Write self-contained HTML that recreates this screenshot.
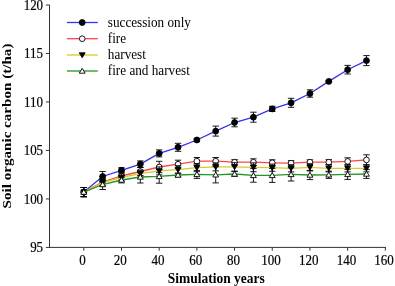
<!DOCTYPE html>
<html><head><meta charset="utf-8"><title>Soil organic carbon</title>
<style>
html,body{margin:0;padding:0;background:#fff;}
body{width:395px;height:286px;overflow:hidden;}
svg{display:block;will-change:transform;}
.t{font-family:"Liberation Serif",serif;font-size:14.5px;fill:#000;}
.n{font-family:"Liberation Serif",serif;font-size:14.5px;fill:#000;stroke:#000;stroke-width:0.2px;}
.l{letter-spacing:-0.13px;}
.b{font-family:"Liberation Serif",serif;font-size:14.5px;font-weight:bold;fill:#000;}
</style></head><body>
<svg width="395" height="286" viewBox="0 0 395 286">
<rect width="395" height="286" fill="#fff"/>
<line x1="49.50" y1="4.90" x2="49.50" y2="247.90" stroke="#333" stroke-width="1"/>
<line x1="49.00" y1="247.40" x2="386.00" y2="247.40" stroke="#333" stroke-width="1"/>
<line x1="45.90" y1="5.00" x2="49.50" y2="5.00" stroke="#333" stroke-width="1"/>
<text transform="translate(43.1,9.7) scale(0.895,1)" text-anchor="end" class="n">120</text>
<line x1="45.90" y1="53.48" x2="49.50" y2="53.48" stroke="#333" stroke-width="1"/>
<text transform="translate(43.1,58.2) scale(0.895,1)" text-anchor="end" class="n">115</text>
<line x1="45.90" y1="101.96" x2="49.50" y2="101.96" stroke="#333" stroke-width="1"/>
<text transform="translate(43.1,106.7) scale(0.895,1)" text-anchor="end" class="n">110</text>
<line x1="45.90" y1="150.44" x2="49.50" y2="150.44" stroke="#333" stroke-width="1"/>
<text transform="translate(43.1,155.1) scale(0.895,1)" text-anchor="end" class="n">105</text>
<line x1="45.90" y1="198.92" x2="49.50" y2="198.92" stroke="#333" stroke-width="1"/>
<text transform="translate(43.1,203.6) scale(0.895,1)" text-anchor="end" class="n">100</text>
<line x1="45.90" y1="247.40" x2="49.50" y2="247.40" stroke="#333" stroke-width="1"/>
<text transform="translate(43.1,252.1) scale(0.895,1)" text-anchor="end" class="n">95</text>
<line x1="83.80" y1="247.40" x2="83.80" y2="250.70" stroke="#333" stroke-width="1"/>
<text transform="translate(82.6,264.6) scale(0.9,1)" text-anchor="middle" class="n">0</text>
<line x1="121.49" y1="247.40" x2="121.49" y2="250.70" stroke="#333" stroke-width="1"/>
<text transform="translate(120.3,264.6) scale(0.9,1)" text-anchor="middle" class="n">20</text>
<line x1="159.18" y1="247.40" x2="159.18" y2="250.70" stroke="#333" stroke-width="1"/>
<text transform="translate(158.0,264.6) scale(0.9,1)" text-anchor="middle" class="n">40</text>
<line x1="196.87" y1="247.40" x2="196.87" y2="250.70" stroke="#333" stroke-width="1"/>
<text transform="translate(195.7,264.6) scale(0.9,1)" text-anchor="middle" class="n">60</text>
<line x1="234.56" y1="247.40" x2="234.56" y2="250.70" stroke="#333" stroke-width="1"/>
<text transform="translate(233.4,264.6) scale(0.9,1)" text-anchor="middle" class="n">80</text>
<line x1="272.25" y1="247.40" x2="272.25" y2="250.70" stroke="#333" stroke-width="1"/>
<text transform="translate(271.1,264.6) scale(0.9,1)" text-anchor="middle" class="n">100</text>
<line x1="309.94" y1="247.40" x2="309.94" y2="250.70" stroke="#333" stroke-width="1"/>
<text transform="translate(308.7,264.6) scale(0.9,1)" text-anchor="middle" class="n">120</text>
<line x1="347.63" y1="247.40" x2="347.63" y2="250.70" stroke="#333" stroke-width="1"/>
<text transform="translate(346.4,264.6) scale(0.9,1)" text-anchor="middle" class="n">140</text>
<line x1="385.32" y1="247.40" x2="385.32" y2="250.70" stroke="#333" stroke-width="1"/>
<text transform="translate(384.1,264.6) scale(0.9,1)" text-anchor="middle" class="n">160</text>
<polyline fill="none" stroke="#3030ff" stroke-width="1.3" points="83.80,192.10 102.64,176.50 121.49,170.30 140.34,164.10 159.18,153.40 178.03,147.30 196.87,140.00 215.71,131.10 234.56,122.50 253.41,117.20 272.25,108.90 291.10,102.80 309.94,93.50 328.79,81.40 347.63,69.70 366.48,60.60"/>
<line x1="83.80" y1="187.50" x2="83.80" y2="196.70" stroke="#000" stroke-width="0.9"/>
<line x1="80.60" y1="187.50" x2="87.00" y2="187.50" stroke="#000" stroke-width="0.9"/>
<line x1="80.60" y1="196.70" x2="87.00" y2="196.70" stroke="#000" stroke-width="0.9"/>
<line x1="102.64" y1="171.50" x2="102.64" y2="181.50" stroke="#000" stroke-width="0.9"/>
<line x1="99.44" y1="171.50" x2="105.84" y2="171.50" stroke="#000" stroke-width="0.9"/>
<line x1="99.44" y1="181.50" x2="105.84" y2="181.50" stroke="#000" stroke-width="0.9"/>
<line x1="121.49" y1="167.70" x2="121.49" y2="172.90" stroke="#000" stroke-width="0.9"/>
<line x1="118.29" y1="167.70" x2="124.69" y2="167.70" stroke="#000" stroke-width="0.9"/>
<line x1="118.29" y1="172.90" x2="124.69" y2="172.90" stroke="#000" stroke-width="0.9"/>
<line x1="140.34" y1="160.90" x2="140.34" y2="167.30" stroke="#000" stroke-width="0.9"/>
<line x1="137.14" y1="160.90" x2="143.53" y2="160.90" stroke="#000" stroke-width="0.9"/>
<line x1="137.14" y1="167.30" x2="143.53" y2="167.30" stroke="#000" stroke-width="0.9"/>
<line x1="159.18" y1="149.90" x2="159.18" y2="156.90" stroke="#000" stroke-width="0.9"/>
<line x1="155.98" y1="149.90" x2="162.38" y2="149.90" stroke="#000" stroke-width="0.9"/>
<line x1="155.98" y1="156.90" x2="162.38" y2="156.90" stroke="#000" stroke-width="0.9"/>
<line x1="178.03" y1="143.30" x2="178.03" y2="151.30" stroke="#000" stroke-width="0.9"/>
<line x1="174.83" y1="143.30" x2="181.22" y2="143.30" stroke="#000" stroke-width="0.9"/>
<line x1="174.83" y1="151.30" x2="181.22" y2="151.30" stroke="#000" stroke-width="0.9"/>
<line x1="196.87" y1="138.40" x2="196.87" y2="141.60" stroke="#000" stroke-width="0.9"/>
<line x1="193.67" y1="138.40" x2="200.07" y2="138.40" stroke="#000" stroke-width="0.9"/>
<line x1="193.67" y1="141.60" x2="200.07" y2="141.60" stroke="#000" stroke-width="0.9"/>
<line x1="215.71" y1="126.10" x2="215.71" y2="136.10" stroke="#000" stroke-width="0.9"/>
<line x1="212.51" y1="126.10" x2="218.91" y2="126.10" stroke="#000" stroke-width="0.9"/>
<line x1="212.51" y1="136.10" x2="218.91" y2="136.10" stroke="#000" stroke-width="0.9"/>
<line x1="234.56" y1="118.20" x2="234.56" y2="126.80" stroke="#000" stroke-width="0.9"/>
<line x1="231.36" y1="118.20" x2="237.76" y2="118.20" stroke="#000" stroke-width="0.9"/>
<line x1="231.36" y1="126.80" x2="237.76" y2="126.80" stroke="#000" stroke-width="0.9"/>
<line x1="253.41" y1="112.20" x2="253.41" y2="122.20" stroke="#000" stroke-width="0.9"/>
<line x1="250.21" y1="112.20" x2="256.61" y2="112.20" stroke="#000" stroke-width="0.9"/>
<line x1="250.21" y1="122.20" x2="256.61" y2="122.20" stroke="#000" stroke-width="0.9"/>
<line x1="272.25" y1="106.30" x2="272.25" y2="111.50" stroke="#000" stroke-width="0.9"/>
<line x1="269.05" y1="106.30" x2="275.45" y2="106.30" stroke="#000" stroke-width="0.9"/>
<line x1="269.05" y1="111.50" x2="275.45" y2="111.50" stroke="#000" stroke-width="0.9"/>
<line x1="291.10" y1="98.30" x2="291.10" y2="107.30" stroke="#000" stroke-width="0.9"/>
<line x1="287.90" y1="98.30" x2="294.30" y2="98.30" stroke="#000" stroke-width="0.9"/>
<line x1="287.90" y1="107.30" x2="294.30" y2="107.30" stroke="#000" stroke-width="0.9"/>
<line x1="309.94" y1="89.80" x2="309.94" y2="97.20" stroke="#000" stroke-width="0.9"/>
<line x1="306.74" y1="89.80" x2="313.14" y2="89.80" stroke="#000" stroke-width="0.9"/>
<line x1="306.74" y1="97.20" x2="313.14" y2="97.20" stroke="#000" stroke-width="0.9"/>
<line x1="328.79" y1="80.60" x2="328.79" y2="82.20" stroke="#000" stroke-width="0.9"/>
<line x1="325.59" y1="80.60" x2="331.99" y2="80.60" stroke="#000" stroke-width="0.9"/>
<line x1="325.59" y1="82.20" x2="331.99" y2="82.20" stroke="#000" stroke-width="0.9"/>
<line x1="347.63" y1="65.40" x2="347.63" y2="74.00" stroke="#000" stroke-width="0.9"/>
<line x1="344.43" y1="65.40" x2="350.83" y2="65.40" stroke="#000" stroke-width="0.9"/>
<line x1="344.43" y1="74.00" x2="350.83" y2="74.00" stroke="#000" stroke-width="0.9"/>
<line x1="366.48" y1="55.60" x2="366.48" y2="65.60" stroke="#000" stroke-width="0.9"/>
<line x1="363.28" y1="55.60" x2="369.68" y2="55.60" stroke="#000" stroke-width="0.9"/>
<line x1="363.28" y1="65.60" x2="369.68" y2="65.60" stroke="#000" stroke-width="0.9"/>
<circle cx="83.80" cy="192.10" r="2.95" fill="#000" stroke="#000" stroke-width="0.9"/>
<circle cx="102.64" cy="176.50" r="2.95" fill="#000" stroke="#000" stroke-width="0.9"/>
<circle cx="121.49" cy="170.30" r="2.95" fill="#000" stroke="#000" stroke-width="0.9"/>
<circle cx="140.34" cy="164.10" r="2.95" fill="#000" stroke="#000" stroke-width="0.9"/>
<circle cx="159.18" cy="153.40" r="2.95" fill="#000" stroke="#000" stroke-width="0.9"/>
<circle cx="178.03" cy="147.30" r="2.95" fill="#000" stroke="#000" stroke-width="0.9"/>
<circle cx="196.87" cy="140.00" r="2.95" fill="#000" stroke="#000" stroke-width="0.9"/>
<circle cx="215.71" cy="131.10" r="2.95" fill="#000" stroke="#000" stroke-width="0.9"/>
<circle cx="234.56" cy="122.50" r="2.95" fill="#000" stroke="#000" stroke-width="0.9"/>
<circle cx="253.41" cy="117.20" r="2.95" fill="#000" stroke="#000" stroke-width="0.9"/>
<circle cx="272.25" cy="108.90" r="2.95" fill="#000" stroke="#000" stroke-width="0.9"/>
<circle cx="291.10" cy="102.80" r="2.95" fill="#000" stroke="#000" stroke-width="0.9"/>
<circle cx="309.94" cy="93.50" r="2.95" fill="#000" stroke="#000" stroke-width="0.9"/>
<circle cx="328.79" cy="81.40" r="2.95" fill="#000" stroke="#000" stroke-width="0.9"/>
<circle cx="347.63" cy="69.70" r="2.95" fill="#000" stroke="#000" stroke-width="0.9"/>
<circle cx="366.48" cy="60.60" r="2.95" fill="#000" stroke="#000" stroke-width="0.9"/>
<polyline fill="none" stroke="#ff4444" stroke-width="1.3" points="83.80,192.10 102.64,182.00 121.49,176.00 140.34,171.50 159.18,167.00 178.03,164.20 196.87,161.20 215.71,161.20 234.56,162.20 253.41,162.20 272.25,162.80 291.10,163.20 309.94,162.20 328.79,162.20 347.63,161.40 366.48,159.90"/>
<line x1="83.80" y1="187.50" x2="83.80" y2="196.70" stroke="#000" stroke-width="0.9"/>
<line x1="80.60" y1="187.50" x2="87.00" y2="187.50" stroke="#000" stroke-width="0.9"/>
<line x1="80.60" y1="196.70" x2="87.00" y2="196.70" stroke="#000" stroke-width="0.9"/>
<line x1="102.64" y1="178.00" x2="102.64" y2="186.00" stroke="#000" stroke-width="0.9"/>
<line x1="99.44" y1="178.00" x2="105.84" y2="178.00" stroke="#000" stroke-width="0.9"/>
<line x1="99.44" y1="186.00" x2="105.84" y2="186.00" stroke="#000" stroke-width="0.9"/>
<line x1="121.49" y1="172.00" x2="121.49" y2="180.00" stroke="#000" stroke-width="0.9"/>
<line x1="118.29" y1="172.00" x2="124.69" y2="172.00" stroke="#000" stroke-width="0.9"/>
<line x1="118.29" y1="180.00" x2="124.69" y2="180.00" stroke="#000" stroke-width="0.9"/>
<line x1="140.34" y1="167.50" x2="140.34" y2="175.50" stroke="#000" stroke-width="0.9"/>
<line x1="137.14" y1="167.50" x2="143.53" y2="167.50" stroke="#000" stroke-width="0.9"/>
<line x1="137.14" y1="175.50" x2="143.53" y2="175.50" stroke="#000" stroke-width="0.9"/>
<line x1="159.18" y1="161.30" x2="159.18" y2="172.70" stroke="#000" stroke-width="0.9"/>
<line x1="155.98" y1="161.30" x2="162.38" y2="161.30" stroke="#000" stroke-width="0.9"/>
<line x1="155.98" y1="172.70" x2="162.38" y2="172.70" stroke="#000" stroke-width="0.9"/>
<line x1="178.03" y1="160.20" x2="178.03" y2="168.20" stroke="#000" stroke-width="0.9"/>
<line x1="174.83" y1="160.20" x2="181.22" y2="160.20" stroke="#000" stroke-width="0.9"/>
<line x1="174.83" y1="168.20" x2="181.22" y2="168.20" stroke="#000" stroke-width="0.9"/>
<line x1="196.87" y1="157.50" x2="196.87" y2="164.90" stroke="#000" stroke-width="0.9"/>
<line x1="193.67" y1="157.50" x2="200.07" y2="157.50" stroke="#000" stroke-width="0.9"/>
<line x1="193.67" y1="164.90" x2="200.07" y2="164.90" stroke="#000" stroke-width="0.9"/>
<line x1="215.71" y1="157.50" x2="215.71" y2="164.90" stroke="#000" stroke-width="0.9"/>
<line x1="212.51" y1="157.50" x2="218.91" y2="157.50" stroke="#000" stroke-width="0.9"/>
<line x1="212.51" y1="164.90" x2="218.91" y2="164.90" stroke="#000" stroke-width="0.9"/>
<line x1="234.56" y1="159.60" x2="234.56" y2="164.80" stroke="#000" stroke-width="0.9"/>
<line x1="231.36" y1="159.60" x2="237.76" y2="159.60" stroke="#000" stroke-width="0.9"/>
<line x1="231.36" y1="164.80" x2="237.76" y2="164.80" stroke="#000" stroke-width="0.9"/>
<line x1="253.41" y1="158.80" x2="253.41" y2="165.60" stroke="#000" stroke-width="0.9"/>
<line x1="250.21" y1="158.80" x2="256.61" y2="158.80" stroke="#000" stroke-width="0.9"/>
<line x1="250.21" y1="165.60" x2="256.61" y2="165.60" stroke="#000" stroke-width="0.9"/>
<line x1="272.25" y1="159.80" x2="272.25" y2="165.80" stroke="#000" stroke-width="0.9"/>
<line x1="269.05" y1="159.80" x2="275.45" y2="159.80" stroke="#000" stroke-width="0.9"/>
<line x1="269.05" y1="165.80" x2="275.45" y2="165.80" stroke="#000" stroke-width="0.9"/>
<line x1="291.10" y1="160.60" x2="291.10" y2="165.80" stroke="#000" stroke-width="0.9"/>
<line x1="287.90" y1="160.60" x2="294.30" y2="160.60" stroke="#000" stroke-width="0.9"/>
<line x1="287.90" y1="165.80" x2="294.30" y2="165.80" stroke="#000" stroke-width="0.9"/>
<line x1="309.94" y1="159.80" x2="309.94" y2="164.60" stroke="#000" stroke-width="0.9"/>
<line x1="306.74" y1="159.80" x2="313.14" y2="159.80" stroke="#000" stroke-width="0.9"/>
<line x1="306.74" y1="164.60" x2="313.14" y2="164.60" stroke="#000" stroke-width="0.9"/>
<line x1="328.79" y1="159.60" x2="328.79" y2="164.80" stroke="#000" stroke-width="0.9"/>
<line x1="325.59" y1="159.60" x2="331.99" y2="159.60" stroke="#000" stroke-width="0.9"/>
<line x1="325.59" y1="164.80" x2="331.99" y2="164.80" stroke="#000" stroke-width="0.9"/>
<line x1="347.63" y1="157.80" x2="347.63" y2="165.00" stroke="#000" stroke-width="0.9"/>
<line x1="344.43" y1="157.80" x2="350.83" y2="157.80" stroke="#000" stroke-width="0.9"/>
<line x1="344.43" y1="165.00" x2="350.83" y2="165.00" stroke="#000" stroke-width="0.9"/>
<line x1="366.48" y1="154.80" x2="366.48" y2="165.00" stroke="#000" stroke-width="0.9"/>
<line x1="363.28" y1="154.80" x2="369.68" y2="154.80" stroke="#000" stroke-width="0.9"/>
<line x1="363.28" y1="165.00" x2="369.68" y2="165.00" stroke="#000" stroke-width="0.9"/>
<circle cx="83.80" cy="192.10" r="2.85" fill="#fff" stroke="#000" stroke-width="0.9"/>
<circle cx="102.64" cy="182.00" r="2.85" fill="#fff" stroke="#000" stroke-width="0.9"/>
<circle cx="121.49" cy="176.00" r="2.85" fill="#fff" stroke="#000" stroke-width="0.9"/>
<circle cx="140.34" cy="171.50" r="2.85" fill="#fff" stroke="#000" stroke-width="0.9"/>
<circle cx="159.18" cy="167.00" r="2.85" fill="#fff" stroke="#000" stroke-width="0.9"/>
<circle cx="178.03" cy="164.20" r="2.85" fill="#fff" stroke="#000" stroke-width="0.9"/>
<circle cx="196.87" cy="161.20" r="2.85" fill="#fff" stroke="#000" stroke-width="0.9"/>
<circle cx="215.71" cy="161.20" r="2.85" fill="#fff" stroke="#000" stroke-width="0.9"/>
<circle cx="234.56" cy="162.20" r="2.85" fill="#fff" stroke="#000" stroke-width="0.9"/>
<circle cx="253.41" cy="162.20" r="2.85" fill="#fff" stroke="#000" stroke-width="0.9"/>
<circle cx="272.25" cy="162.80" r="2.85" fill="#fff" stroke="#000" stroke-width="0.9"/>
<circle cx="291.10" cy="163.20" r="2.85" fill="#fff" stroke="#000" stroke-width="0.9"/>
<circle cx="309.94" cy="162.20" r="2.85" fill="#fff" stroke="#000" stroke-width="0.9"/>
<circle cx="328.79" cy="162.20" r="2.85" fill="#fff" stroke="#000" stroke-width="0.9"/>
<circle cx="347.63" cy="161.40" r="2.85" fill="#fff" stroke="#000" stroke-width="0.9"/>
<circle cx="366.48" cy="159.90" r="2.85" fill="#fff" stroke="#000" stroke-width="0.9"/>
<polyline fill="none" stroke="#d2cc24" stroke-width="1.3" points="83.80,192.10 102.64,182.70 121.49,177.50 140.34,173.60 159.18,170.90 178.03,169.70 196.87,167.70 215.71,166.90 234.56,166.90 253.41,167.30 272.25,167.70 291.10,168.30 309.94,167.30 328.79,168.30 347.63,168.30 366.48,168.30"/>
<line x1="83.80" y1="187.50" x2="83.80" y2="196.70" stroke="#000" stroke-width="0.9"/>
<line x1="80.60" y1="187.50" x2="87.00" y2="187.50" stroke="#000" stroke-width="0.9"/>
<line x1="80.60" y1="196.70" x2="87.00" y2="196.70" stroke="#000" stroke-width="0.9"/>
<line x1="102.64" y1="179.20" x2="102.64" y2="186.20" stroke="#000" stroke-width="0.9"/>
<line x1="99.44" y1="179.20" x2="105.84" y2="179.20" stroke="#000" stroke-width="0.9"/>
<line x1="99.44" y1="186.20" x2="105.84" y2="186.20" stroke="#000" stroke-width="0.9"/>
<line x1="121.49" y1="174.00" x2="121.49" y2="181.00" stroke="#000" stroke-width="0.9"/>
<line x1="118.29" y1="174.00" x2="124.69" y2="174.00" stroke="#000" stroke-width="0.9"/>
<line x1="118.29" y1="181.00" x2="124.69" y2="181.00" stroke="#000" stroke-width="0.9"/>
<line x1="140.34" y1="170.10" x2="140.34" y2="177.10" stroke="#000" stroke-width="0.9"/>
<line x1="137.14" y1="170.10" x2="143.53" y2="170.10" stroke="#000" stroke-width="0.9"/>
<line x1="137.14" y1="177.10" x2="143.53" y2="177.10" stroke="#000" stroke-width="0.9"/>
<line x1="159.18" y1="166.90" x2="159.18" y2="174.90" stroke="#000" stroke-width="0.9"/>
<line x1="155.98" y1="166.90" x2="162.38" y2="166.90" stroke="#000" stroke-width="0.9"/>
<line x1="155.98" y1="174.90" x2="162.38" y2="174.90" stroke="#000" stroke-width="0.9"/>
<line x1="178.03" y1="165.70" x2="178.03" y2="173.70" stroke="#000" stroke-width="0.9"/>
<line x1="174.83" y1="165.70" x2="181.22" y2="165.70" stroke="#000" stroke-width="0.9"/>
<line x1="174.83" y1="173.70" x2="181.22" y2="173.70" stroke="#000" stroke-width="0.9"/>
<line x1="196.87" y1="163.70" x2="196.87" y2="171.70" stroke="#000" stroke-width="0.9"/>
<line x1="193.67" y1="163.70" x2="200.07" y2="163.70" stroke="#000" stroke-width="0.9"/>
<line x1="193.67" y1="171.70" x2="200.07" y2="171.70" stroke="#000" stroke-width="0.9"/>
<line x1="215.71" y1="162.90" x2="215.71" y2="170.90" stroke="#000" stroke-width="0.9"/>
<line x1="212.51" y1="162.90" x2="218.91" y2="162.90" stroke="#000" stroke-width="0.9"/>
<line x1="212.51" y1="170.90" x2="218.91" y2="170.90" stroke="#000" stroke-width="0.9"/>
<line x1="234.56" y1="162.70" x2="234.56" y2="171.10" stroke="#000" stroke-width="0.9"/>
<line x1="231.36" y1="162.70" x2="237.76" y2="162.70" stroke="#000" stroke-width="0.9"/>
<line x1="231.36" y1="171.10" x2="237.76" y2="171.10" stroke="#000" stroke-width="0.9"/>
<line x1="253.41" y1="162.90" x2="253.41" y2="171.70" stroke="#000" stroke-width="0.9"/>
<line x1="250.21" y1="162.90" x2="256.61" y2="162.90" stroke="#000" stroke-width="0.9"/>
<line x1="250.21" y1="171.70" x2="256.61" y2="171.70" stroke="#000" stroke-width="0.9"/>
<line x1="272.25" y1="164.10" x2="272.25" y2="171.30" stroke="#000" stroke-width="0.9"/>
<line x1="269.05" y1="164.10" x2="275.45" y2="164.10" stroke="#000" stroke-width="0.9"/>
<line x1="269.05" y1="171.30" x2="275.45" y2="171.30" stroke="#000" stroke-width="0.9"/>
<line x1="291.10" y1="164.70" x2="291.10" y2="171.90" stroke="#000" stroke-width="0.9"/>
<line x1="287.90" y1="164.70" x2="294.30" y2="164.70" stroke="#000" stroke-width="0.9"/>
<line x1="287.90" y1="171.90" x2="294.30" y2="171.90" stroke="#000" stroke-width="0.9"/>
<line x1="309.94" y1="163.70" x2="309.94" y2="170.90" stroke="#000" stroke-width="0.9"/>
<line x1="306.74" y1="163.70" x2="313.14" y2="163.70" stroke="#000" stroke-width="0.9"/>
<line x1="306.74" y1="170.90" x2="313.14" y2="170.90" stroke="#000" stroke-width="0.9"/>
<line x1="328.79" y1="164.70" x2="328.79" y2="171.90" stroke="#000" stroke-width="0.9"/>
<line x1="325.59" y1="164.70" x2="331.99" y2="164.70" stroke="#000" stroke-width="0.9"/>
<line x1="325.59" y1="171.90" x2="331.99" y2="171.90" stroke="#000" stroke-width="0.9"/>
<line x1="347.63" y1="164.70" x2="347.63" y2="171.90" stroke="#000" stroke-width="0.9"/>
<line x1="344.43" y1="164.70" x2="350.83" y2="164.70" stroke="#000" stroke-width="0.9"/>
<line x1="344.43" y1="171.90" x2="350.83" y2="171.90" stroke="#000" stroke-width="0.9"/>
<line x1="366.48" y1="164.70" x2="366.48" y2="171.90" stroke="#000" stroke-width="0.9"/>
<line x1="363.28" y1="164.70" x2="369.68" y2="164.70" stroke="#000" stroke-width="0.9"/>
<line x1="363.28" y1="171.90" x2="369.68" y2="171.90" stroke="#000" stroke-width="0.9"/>
<polygon fill="#000" stroke="#000" stroke-width="0.9" points="83.80,194.80 80.85,189.90 86.75,189.90"/>
<polygon fill="#000" stroke="#000" stroke-width="0.9" points="102.64,185.40 99.69,180.50 105.59,180.50"/>
<polygon fill="#000" stroke="#000" stroke-width="0.9" points="121.49,180.20 118.54,175.30 124.44,175.30"/>
<polygon fill="#000" stroke="#000" stroke-width="0.9" points="140.34,176.30 137.39,171.40 143.28,171.40"/>
<polygon fill="#000" stroke="#000" stroke-width="0.9" points="159.18,173.60 156.23,168.70 162.13,168.70"/>
<polygon fill="#000" stroke="#000" stroke-width="0.9" points="178.03,172.40 175.08,167.50 180.97,167.50"/>
<polygon fill="#000" stroke="#000" stroke-width="0.9" points="196.87,170.40 193.92,165.50 199.82,165.50"/>
<polygon fill="#000" stroke="#000" stroke-width="0.9" points="215.71,169.60 212.76,164.70 218.66,164.70"/>
<polygon fill="#000" stroke="#000" stroke-width="0.9" points="234.56,169.60 231.61,164.70 237.51,164.70"/>
<polygon fill="#000" stroke="#000" stroke-width="0.9" points="253.41,170.00 250.46,165.10 256.36,165.10"/>
<polygon fill="#000" stroke="#000" stroke-width="0.9" points="272.25,170.40 269.30,165.50 275.20,165.50"/>
<polygon fill="#000" stroke="#000" stroke-width="0.9" points="291.10,171.00 288.15,166.10 294.05,166.10"/>
<polygon fill="#000" stroke="#000" stroke-width="0.9" points="309.94,170.00 306.99,165.10 312.89,165.10"/>
<polygon fill="#000" stroke="#000" stroke-width="0.9" points="328.79,171.00 325.84,166.10 331.74,166.10"/>
<polygon fill="#000" stroke="#000" stroke-width="0.9" points="347.63,171.00 344.68,166.10 350.58,166.10"/>
<polygon fill="#000" stroke="#000" stroke-width="0.9" points="366.48,171.00 363.53,166.10 369.43,166.10"/>
<polyline fill="none" stroke="#259425" stroke-width="1.3" points="83.80,192.10 102.64,184.50 121.49,180.00 140.34,177.00 159.18,176.40 178.03,175.00 196.87,174.40 215.71,174.80 234.56,174.00 253.41,175.40 272.25,175.40 291.10,174.40 309.94,175.00 328.79,174.80 347.63,174.40 366.48,174.00"/>
<line x1="83.80" y1="187.50" x2="83.80" y2="196.70" stroke="#000" stroke-width="0.9"/>
<line x1="80.60" y1="187.50" x2="87.00" y2="187.50" stroke="#000" stroke-width="0.9"/>
<line x1="80.60" y1="196.70" x2="87.00" y2="196.70" stroke="#000" stroke-width="0.9"/>
<line x1="102.64" y1="179.50" x2="102.64" y2="189.50" stroke="#000" stroke-width="0.9"/>
<line x1="99.44" y1="179.50" x2="105.84" y2="179.50" stroke="#000" stroke-width="0.9"/>
<line x1="99.44" y1="189.50" x2="105.84" y2="189.50" stroke="#000" stroke-width="0.9"/>
<line x1="121.49" y1="177.10" x2="121.49" y2="182.90" stroke="#000" stroke-width="0.9"/>
<line x1="118.29" y1="177.10" x2="124.69" y2="177.10" stroke="#000" stroke-width="0.9"/>
<line x1="118.29" y1="182.90" x2="124.69" y2="182.90" stroke="#000" stroke-width="0.9"/>
<line x1="140.34" y1="171.00" x2="140.34" y2="183.00" stroke="#000" stroke-width="0.9"/>
<line x1="137.14" y1="171.00" x2="143.53" y2="171.00" stroke="#000" stroke-width="0.9"/>
<line x1="137.14" y1="183.00" x2="143.53" y2="183.00" stroke="#000" stroke-width="0.9"/>
<line x1="159.18" y1="169.60" x2="159.18" y2="183.20" stroke="#000" stroke-width="0.9"/>
<line x1="155.98" y1="169.60" x2="162.38" y2="169.60" stroke="#000" stroke-width="0.9"/>
<line x1="155.98" y1="183.20" x2="162.38" y2="183.20" stroke="#000" stroke-width="0.9"/>
<line x1="178.03" y1="173.00" x2="178.03" y2="177.00" stroke="#000" stroke-width="0.9"/>
<line x1="174.83" y1="173.00" x2="181.22" y2="173.00" stroke="#000" stroke-width="0.9"/>
<line x1="174.83" y1="177.00" x2="181.22" y2="177.00" stroke="#000" stroke-width="0.9"/>
<line x1="196.87" y1="170.40" x2="196.87" y2="178.40" stroke="#000" stroke-width="0.9"/>
<line x1="193.67" y1="170.40" x2="200.07" y2="170.40" stroke="#000" stroke-width="0.9"/>
<line x1="193.67" y1="178.40" x2="200.07" y2="178.40" stroke="#000" stroke-width="0.9"/>
<line x1="215.71" y1="166.70" x2="215.71" y2="182.90" stroke="#000" stroke-width="0.9"/>
<line x1="212.51" y1="166.70" x2="218.91" y2="166.70" stroke="#000" stroke-width="0.9"/>
<line x1="212.51" y1="182.90" x2="218.91" y2="182.90" stroke="#000" stroke-width="0.9"/>
<line x1="234.56" y1="171.60" x2="234.56" y2="176.40" stroke="#000" stroke-width="0.9"/>
<line x1="231.36" y1="171.60" x2="237.76" y2="171.60" stroke="#000" stroke-width="0.9"/>
<line x1="231.36" y1="176.40" x2="237.76" y2="176.40" stroke="#000" stroke-width="0.9"/>
<line x1="253.41" y1="168.60" x2="253.41" y2="182.20" stroke="#000" stroke-width="0.9"/>
<line x1="250.21" y1="168.60" x2="256.61" y2="168.60" stroke="#000" stroke-width="0.9"/>
<line x1="250.21" y1="182.20" x2="256.61" y2="182.20" stroke="#000" stroke-width="0.9"/>
<line x1="272.25" y1="168.40" x2="272.25" y2="182.40" stroke="#000" stroke-width="0.9"/>
<line x1="269.05" y1="168.40" x2="275.45" y2="168.40" stroke="#000" stroke-width="0.9"/>
<line x1="269.05" y1="182.40" x2="275.45" y2="182.40" stroke="#000" stroke-width="0.9"/>
<line x1="291.10" y1="167.80" x2="291.10" y2="181.00" stroke="#000" stroke-width="0.9"/>
<line x1="287.90" y1="167.80" x2="294.30" y2="167.80" stroke="#000" stroke-width="0.9"/>
<line x1="287.90" y1="181.00" x2="294.30" y2="181.00" stroke="#000" stroke-width="0.9"/>
<line x1="309.94" y1="170.40" x2="309.94" y2="179.60" stroke="#000" stroke-width="0.9"/>
<line x1="306.74" y1="170.40" x2="313.14" y2="170.40" stroke="#000" stroke-width="0.9"/>
<line x1="306.74" y1="179.60" x2="313.14" y2="179.60" stroke="#000" stroke-width="0.9"/>
<line x1="328.79" y1="171.20" x2="328.79" y2="178.40" stroke="#000" stroke-width="0.9"/>
<line x1="325.59" y1="171.20" x2="331.99" y2="171.20" stroke="#000" stroke-width="0.9"/>
<line x1="325.59" y1="178.40" x2="331.99" y2="178.40" stroke="#000" stroke-width="0.9"/>
<line x1="347.63" y1="169.40" x2="347.63" y2="179.40" stroke="#000" stroke-width="0.9"/>
<line x1="344.43" y1="169.40" x2="350.83" y2="169.40" stroke="#000" stroke-width="0.9"/>
<line x1="344.43" y1="179.40" x2="350.83" y2="179.40" stroke="#000" stroke-width="0.9"/>
<line x1="366.48" y1="169.60" x2="366.48" y2="178.40" stroke="#000" stroke-width="0.9"/>
<line x1="363.28" y1="169.60" x2="369.68" y2="169.60" stroke="#000" stroke-width="0.9"/>
<line x1="363.28" y1="178.40" x2="369.68" y2="178.40" stroke="#000" stroke-width="0.9"/>
<polygon fill="#fff" stroke="#000" stroke-width="0.9" points="83.80,189.40 80.85,194.30 86.75,194.30"/>
<polygon fill="#fff" stroke="#000" stroke-width="0.9" points="102.64,181.80 99.69,186.70 105.59,186.70"/>
<polygon fill="#fff" stroke="#000" stroke-width="0.9" points="121.49,177.30 118.54,182.20 124.44,182.20"/>
<polygon fill="#fff" stroke="#000" stroke-width="0.9" points="140.34,174.30 137.39,179.20 143.28,179.20"/>
<polygon fill="#fff" stroke="#000" stroke-width="0.9" points="159.18,173.70 156.23,178.60 162.13,178.60"/>
<polygon fill="#fff" stroke="#000" stroke-width="0.9" points="178.03,172.30 175.08,177.20 180.97,177.20"/>
<polygon fill="#fff" stroke="#000" stroke-width="0.9" points="196.87,171.70 193.92,176.60 199.82,176.60"/>
<polygon fill="#fff" stroke="#000" stroke-width="0.9" points="215.71,172.10 212.76,177.00 218.66,177.00"/>
<polygon fill="#fff" stroke="#000" stroke-width="0.9" points="234.56,171.30 231.61,176.20 237.51,176.20"/>
<polygon fill="#fff" stroke="#000" stroke-width="0.9" points="253.41,172.70 250.46,177.60 256.36,177.60"/>
<polygon fill="#fff" stroke="#000" stroke-width="0.9" points="272.25,172.70 269.30,177.60 275.20,177.60"/>
<polygon fill="#fff" stroke="#000" stroke-width="0.9" points="291.10,171.70 288.15,176.60 294.05,176.60"/>
<polygon fill="#fff" stroke="#000" stroke-width="0.9" points="309.94,172.30 306.99,177.20 312.89,177.20"/>
<polygon fill="#fff" stroke="#000" stroke-width="0.9" points="328.79,172.10 325.84,177.00 331.74,177.00"/>
<polygon fill="#fff" stroke="#000" stroke-width="0.9" points="347.63,171.70 344.68,176.60 350.58,176.60"/>
<polygon fill="#fff" stroke="#000" stroke-width="0.9" points="366.48,171.30 363.53,176.20 369.43,176.20"/>
<line x1="67.00" y1="22.50" x2="97.80" y2="22.50" stroke="#3030ff" stroke-width="1.3"/>
<text transform="translate(107.8,26.7) scale(0.91,1)" class="t">succession only</text>
<line x1="67.00" y1="38.70" x2="97.80" y2="38.70" stroke="#ff4444" stroke-width="1.3"/>
<text transform="translate(107.8,42.9) scale(0.91,1)" class="t">fire</text>
<line x1="67.00" y1="55.00" x2="97.80" y2="55.00" stroke="#d2cc24" stroke-width="1.3"/>
<text transform="translate(107.8,59.2) scale(0.91,1)" class="t">harvest</text>
<line x1="67.00" y1="71.00" x2="97.80" y2="71.00" stroke="#259425" stroke-width="1.3"/>
<text transform="translate(107.8,75.2) scale(0.91,1)" class="t">fire and harvest</text>
<circle cx="82.20" cy="22.50" r="2.95" fill="#000" stroke="#000" stroke-width="0.9"/>
<circle cx="82.20" cy="38.70" r="2.85" fill="#fff" stroke="#000" stroke-width="0.9"/>
<polygon fill="#000" stroke="#000" stroke-width="0.9" points="82.20,57.70 79.25,52.80 85.15,52.80"/>
<polygon fill="#fff" stroke="#000" stroke-width="0.9" points="82.20,68.30 79.25,73.20 85.15,73.20"/>
<text transform="translate(216.2,282.5) scale(0.931,1)" text-anchor="middle" class="b">Simulation years</text>
<text transform="translate(11,126.0) rotate(-90) scale(1.042,0.93)" text-anchor="middle" class="b">Soil organic carbon (t/ha)</text>
</svg>
</body></html>
